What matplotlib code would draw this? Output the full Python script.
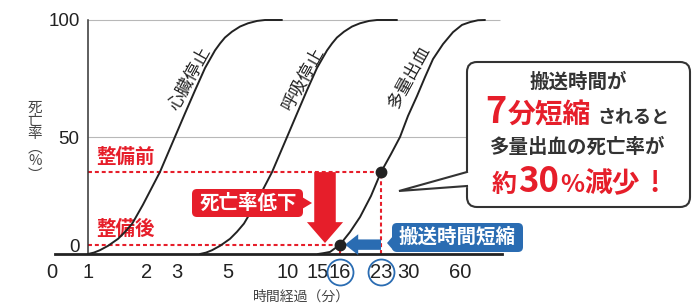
import numpy as np
import matplotlib
matplotlib.use("Agg")
import matplotlib.pyplot as plt
from matplotlib.patches import FancyBboxPatch, Polygon
from matplotlib.lines import Line2D
from matplotlib.transforms import Affine2D, ScaledTranslation

plt.rcParams["font.family"] = ["Noto Sans CJK JP", "DejaVu Sans"]

# ---- data (minutes after onset, mortality %) ----
X_TICKS = [0, 1, 2, 3, 5, 10, 15, 16, 23, 30, 60]
X_LABELS = [str(v) for v in X_TICKS]
Y_TICKS = [0, 50, 100]

CARDIAC_T = [1.0, 1.10, 1.20, 1.34, 1.51, 1.63, 1.75, 1.93, 2.43, 2.93, 3.31, 3.71, 4.10,
             4.49, 4.69, 4.88, 5.33, 6.0, 6.67, 7.42, 8.08, 9.5]
CARDIAC_P = [0, 0.6, 1.6, 3.5, 6.5, 9.5, 13, 21, 35, 50, 60, 70, 79.5,
             87, 90, 92.5, 95, 97.2, 98.6, 99.6, 100, 100]

RESP_T = [3.90, 4.14, 4.37, 4.69, 5.17, 5.75, 6.33, 7.25, 8.67, 9.92, 11.5, 13.17, 14.83,
          15.41, 15.64, 15.86, 16.68, 18.05, 19.42, 20.95, 22.32, 27.15]
RESP_P = [0, 0.6, 1.6, 3.5, 6.5, 9.5, 13, 21, 35, 50, 60, 70, 79.5,
          87, 90, 92.5, 95, 97.2, 98.6, 99.6, 100, 100]

BLEED_T = [15.0, 15.27, 15.55, 16, 17.71, 19.42, 21.29, 23, 25.59, 27.93, 30, 35.19, 39.81,
           44.42, 50.19, 55.96, 61.15, 65.77, 70.38, 74.42]
BLEED_P = [0, 0.4, 0.9, 4, 9.4, 15.8, 24.8, 35, 42.7, 50, 59, 67.5, 75.6,
           83.3, 89.7, 94.8, 97.9, 99.1, 99.9, 100]

AFTER_MIN, BEFORE_MIN = 16, 23
AFTER_RATE, BEFORE_RATE = 4, 35

# the time axis is drawn on an uneven ruler: minute value -> pixel
SCALE_MIN = [-2, 0, 1, 2, 3, 5, 10, 15, 16, 23, 30, 60, 150]
SCALE_PX = [-20, 52, 88, 147, 177, 228, 288, 318, 340, 381, 408, 460, 616]

RED = "#e61e2a"
BLUE = "#2a6cb2"
INK = "#222222"


def fwd(t):
    return np.interp(t, SCALE_MIN, SCALE_PX)


def inv(u):
    return np.interp(u, SCALE_PX, SCALE_MIN)


W, H = 700, 303
fig = plt.figure(figsize=(W / 100, H / 100), dpi=100)
PX = Affine2D().scale(1 / W, -1 / H).translate(0, 1) + fig.transFigure


def px(x, y):
    return x / W, 1 - y / H


ax = fig.add_axes([52 / W, (H - 254) / H, (520 - 52) / W, (254 - 12) / H])
ax.set_xscale("function", functions=(fwd, inv))
ax.set_xlim(0, inv(520))
ax.set_ylim(0, 100 * (254 - 12) / (254 - 20))

ax.spines[["top", "right"]].set_visible(False)
ax.spines["left"].set_position(("data", 1))
ax.spines["left"].set_bounds(0, 100)
ax.spines["left"].set_color("#333333")
ax.spines["left"].set_linewidth(1.1)
ax.spines["bottom"].set_bounds(inv(55), inv(502))
ax.spines["bottom"].set_linewidth(2)
ax.spines["bottom"].set_color(INK)

ax.set_xticks(X_TICKS, X_LABELS)
ax.xaxis.set_minor_locator(matplotlib.ticker.NullLocator())
ax.tick_params(axis="x", length=0, pad=6.5, labelsize=14.5, labelcolor=INK)
for lab in ax.get_xticklabels():
    lab.set_fontfamily("Liberation Sans")

ax.set_yticks(Y_TICKS)
ax.tick_params(axis="y", length=0, pad=6, labelsize=13.5, labelcolor=INK)
for lab in ax.get_yticklabels():
    lab.set_fontfamily("Liberation Sans")
zero = ax.get_yticklabels()[0]
zero.set_transform(zero.get_transform() + ScaledTranslation(0, 0.09, fig.dpi_scale_trans))

ax.set_xlabel("時間経過（分）", fontsize=10, color="#444444", va="center")
ax.xaxis.set_label_coords((301.5 - 52) / 468, (254 - 297) / 242)
ax.set_ylabel("死\n亡\n率\n︵\n%\n︶", rotation=0, fontsize=10.5, color="#444444",
              ha="center", va="center", linespacing=0.95)
ax.yaxis.set_label_coords((35 - 52) / 468, (254 - 141) / 242)

# grid lines
ax.hlines([50, 100], 1, inv(500), color="#b8b8b8", lw=0.8, zorder=1)

# before / after guides
dots = (0, (1.9, 1.4))
ax.hlines([BEFORE_RATE, AFTER_RATE], 1, [BEFORE_MIN, AFTER_MIN], color=RED, lw=1.5,
          linestyles=dots, zorder=2)
ax.vlines([BEFORE_MIN, AFTER_MIN], 0, [BEFORE_RATE, AFTER_RATE], color=RED, lw=1.5,
          linestyles=dots, zorder=2)
ax.annotate("整備前", xy=(1, BEFORE_RATE), xytext=(6, 11), textcoords="offset points",
            color=RED, fontsize=14, fontweight="bold", ha="left", va="center")
ax.annotate("整備後", xy=(1, AFTER_RATE), xytext=(6, 11), textcoords="offset points",
            color=RED, fontsize=14, fontweight="bold", ha="left", va="center")

# curves
for t, p in [(CARDIAC_T, CARDIAC_P), (RESP_T, RESP_P), (BLEED_T, BLEED_P)]:
    ax.plot(t, p, color=INK, lw=1.4, zorder=3, solid_capstyle="round",
            solid_joinstyle="round")

for t, p, name in [(3.51, 75, "心臓停止"), (12.5, 75, "呼吸停止"), (30.6, 76, "多量出血")]:
    ax.text(t, p, name, rotation=61, rotation_mode="anchor", ha="center", va="center",
            fontsize=12.5, color=INK)

# arrows
ax.annotate("", xy=(inv(325), 4.7), xytext=(inv(325), BEFORE_RATE),
            arrowprops=dict(arrowstyle="simple,head_length=15,head_width=26,tail_width=15.5",
                            mutation_scale=1, fc=RED, ec="none", shrinkA=0, shrinkB=0),
            zorder=4)
ax.annotate("", xy=(inv(345), AFTER_RATE), xytext=(BEFORE_MIN, AFTER_RATE),
            arrowprops=dict(arrowstyle="simple,head_length=9.5,head_width=15,tail_width=7.5",
                            mutation_scale=1, fc=BLUE, ec="none", shrinkA=0, shrinkB=0),
            zorder=4)

ax.plot([AFTER_MIN, BEFORE_MIN], [AFTER_RATE, BEFORE_RATE], "o", ms=7.5, color=INK, zorder=6)

# circled tick values
ax.plot([AFTER_MIN, BEFORE_MIN], [-0.0744, -0.0744], "o", ms=18.7, mfc="none", mec=BLUE,
        mew=1.3, transform=ax.get_xaxis_transform(), clip_on=False)

# label boxes
fig.add_artist(FancyBboxPatch((192, 189), 111, 28, boxstyle="round,pad=0,rounding_size=5",
                              fc=RED, ec="none", transform=PX))
fig.add_artist(Polygon([(302, 197), (312, 203), (302, 209)], fc=RED, ec="none", transform=PX))
fig.text(*px(248, 203), "死亡率低下", color="white", fontsize=14, fontweight="bold",
         ha="center", va="center")

fig.add_artist(FancyBboxPatch((392, 223), 131, 29, boxstyle="round,pad=0,rounding_size=5",
                              fc=BLUE, ec="none", transform=PX))
fig.add_artist(Polygon([(393, 236), (387, 243), (393, 250)], fc=BLUE, ec="none", transform=PX))
fig.text(*px(457, 237), "搬送時間短縮", color="white", fontsize=14, fontweight="bold",
         ha="center", va="center")

# callout
fig.add_artist(FancyBboxPatch((467, 62), 223, 145, boxstyle="round,pad=0,rounding_size=10",
                              fc="white", ec="#333333", lw=1.5, transform=PX))
fig.add_artist(Polygon([(469.5, 171), (399, 191), (469.5, 187)], fc="white", ec="none",
                       transform=PX))
fig.add_artist(Line2D([467, 399, 467], [172, 191, 186], color="#333333", lw=1.5,
                      transform=PX, solid_joinstyle="miter"))

fig.text(*px(578, 82), "搬送時間が", color="#333333", fontsize=14, fontweight="bold",
         ha="center", va="center")
for x, s, size, col in [(496, "7", 26, RED), (549, "分短縮", 20, RED), (633, "されると", 13, "#333333")]:
    fig.text(*px(x, 123), s, color=col, fontsize=size, fontweight="bold", ha="center",
             va="baseline")
fig.text(*px(578, 147), "多量出血の死亡率が", color="#333333", fontsize=14, fontweight="bold",
         ha="center", va="center")
for x, s, size in [(504, "約", 18), (539, "30", 25), (572, "%", 18), (612, "減少", 20), (654, "!", 20)]:
    fig.text(*px(x, 192), s, color=RED, fontsize=size, fontweight="bold", ha="center",
             va="baseline")

fig.savefig("out.png", dpi=100)
